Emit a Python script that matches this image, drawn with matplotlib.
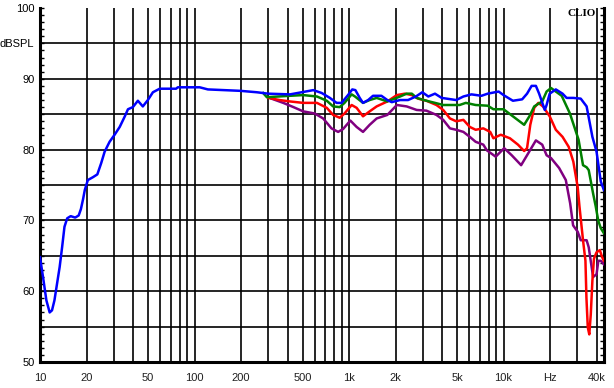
import matplotlib.pyplot as plt
import matplotlib.ticker as ticker

# frequency response curves (Hz, dB SPL)
blue_freq = [10, 10.46, 11.0, 11.55, 11.96, 12.4, 12.9, 13.4, 13.9, 14.4, 15.0, 15.8, 16.9, 17.8,
             18.4, 19.0, 19.5, 20.4, 22.0, 23.5, 24.9, 26.2, 28.2, 30.4, 32.8, 35.4, 37.1, 39.9,
             43.0, 46.3, 49.9, 53.8, 59.5, 76, 78, 108, 122, 198, 253, 300, 415, 494, 587, 665,
             752, 831, 895, 985, 1050, 1100, 1173, 1232, 1330, 1430, 1620, 1770, 1890, 2140, 2410,
             2710, 2980, 3260, 3600, 3980, 4940, 5500, 6200, 7200, 7900, 9300, 10000, 11500,
             13200, 14200, 15200, 16200, 17000, 18500, 19000, 19900, 21800, 24100, 25600, 28300,
             31600, 34500, 37600, 40000, 42600, 44600]
blue_db = [64.8, 62.0, 58.7, 57.0, 57.3, 58.7, 61.1, 63.4, 66.2, 69.1, 70.3, 70.6, 70.4, 70.7,
           71.6, 73.0, 74.3, 75.7, 76.1, 76.5, 78.1, 79.7, 81.1, 82.1, 83.2, 84.7, 85.7, 86.0,
           86.9, 86.1, 87.0, 88.1, 88.6, 88.6, 88.8, 88.8, 88.5, 88.3, 88.1, 87.9, 87.8, 88.1, 88.4, 88.0,
           87.3, 86.6, 86.6, 87.7, 88.5, 88.4, 87.3, 86.6, 87.0, 87.6, 87.6, 87.0, 86.7, 87.0, 87.0,
           87.5, 88.1, 87.5, 87.9, 87.3, 87.0, 87.5, 87.8, 87.6, 87.9, 88.2, 87.7, 86.9,
           87.1, 87.9, 89.0, 89.0, 87.9, 85.6, 86.3, 87.9, 88.5, 87.9, 87.3, 87.3,
           87.2, 86.1, 81.8, 79.7, 75.5, 74.3]

green_freq = [278, 294, 415, 505, 620, 718, 789, 870, 935, 1040, 1093, 1232, 1360, 1510, 1770,
              2140, 2360, 2550, 2740, 3170, 3600, 4070, 5200, 5700, 6600, 7900, 8600, 10000, 11500,
              13600, 14700, 15800, 17800, 19000, 20300, 21800, 23800, 26900, 30600, 32700, 34500,
              35600, 38000, 39500, 41000, 42600, 44600]
green_db = [88.0, 87.4, 87.6, 87.7, 87.5, 86.9, 86.1, 86.0, 86.6, 87.8, 87.5, 86.6, 87.0, 87.3, 86.8,
            87.5, 87.9, 87.9, 87.3, 86.9, 86.6, 86.3, 86.3, 86.6, 86.3, 86.2, 85.7, 85.7, 84.7,
            83.5, 84.7, 86.1, 86.8, 88.2, 88.7, 88.2, 87.6, 85.1, 81.4, 77.8, 77.5,
            77.1, 73.8, 72.0, 70.0, 68.9, 68.2]

red_freq = [300, 356, 415, 505, 620, 718, 789, 870, 935, 1040, 1120, 1232, 1360, 1510, 1770, 2040,
            2300, 2550, 2800, 3170, 3680, 4070, 4500, 4940, 5500, 6050, 6600, 7400, 8200, 8600,
            9600, 11000, 12400, 13600, 14200, 14900, 15800, 16800, 18000, 19900, 21800, 24100,
            26400, 28300, 30200, 31000, 32700, 33900, 34400, 35100, 35900, 36700, 37600, 38500,
            40000, 42000, 43500, 44600]
red_db = [87.3, 87.0, 86.8, 86.6, 86.6, 85.9, 84.9, 84.5, 85.1, 86.3, 85.9, 84.7, 85.4, 86.1, 86.8, 87.7,
          87.9, 87.7, 87.2, 86.9, 86.3, 85.6, 84.4, 84.0, 84.2, 83.2, 82.8, 83.0, 82.5, 81.6,
          82.1, 81.6, 80.7, 79.8, 80.2, 83.5, 85.9, 86.6, 86.1, 84.7, 82.8, 81.8,
          80.4, 78.3, 74.7, 72.0, 67.2, 64.3, 59.1, 54.9, 53.9, 56.7, 61.5, 64.6,
          65.5, 65.8, 64.8, 64.3]

purple_freq = [315, 375, 437, 505, 600, 680, 770, 850, 915, 1020, 1120, 1232, 1360, 1510, 1770, 2040,
               2360, 2740, 3170, 3680, 4070, 4500, 4940, 5500, 6050, 6600, 7400, 7800, 8900, 10100,
               11300, 13000, 14200, 16200, 17800, 19000, 20300, 22900, 25300, 27000, 28200, 30200,
               31600, 34500, 35600, 36900, 38000, 40000, 41100, 42600, 44600]
purple_db = [87.2, 86.6, 86.0, 85.4, 85.1, 84.4, 83.0, 82.5, 82.9, 84.1, 83.2, 82.5, 83.5, 84.4, 84.9, 86.3,
             86.1, 85.6, 85.5, 84.9, 84.2, 83.0, 82.8, 82.5, 81.8, 81.1, 80.7, 79.9, 79.0, 80.2,
             79.2, 77.8, 79.2, 81.3, 80.7, 79.2, 78.8, 77.4, 75.7, 72.4, 69.3, 68.4,
             67.2, 67.2, 66.2, 63.9, 62.0, 62.4, 64.3, 64.3, 63.8]

x_labels = {10: '10', 20: '20', 50: '50', 100: '100', 200: '200', 500: '500', 1000: '1k',
            2000: '2k', 5000: '5k', 10000: '10k', 20000: 'Hz', 40000: '40k'}
y_labels = ['50', '', '60', '', '70', '', '80', '', '90', 'dBSPL', '100']

plt.rcParams['font.family'] = ['Liberation Sans', 'DejaVu Sans']

fig = plt.figure(figsize=(6.14, 3.88), dpi=100)
ax = fig.add_axes([40 / 614, 26 / 388, 564 / 614, 354 / 388])

ax.plot(purple_freq, purple_db, color='#800080', linewidth=1.8, zorder=3)
ax.plot(red_freq, red_db, color='#ff0000', linewidth=1.8, zorder=4)
ax.plot(green_freq, green_db, color='#008000', linewidth=1.8, zorder=5)
ax.plot(blue_freq, blue_db, color='#0000ff', linewidth=1.8, zorder=6)

ax.set_xscale('log')
ax.set_xlim(10, 44700)
ax.set_ylim(50, 100)

# vertical grid at every 1..9 x decade
grid_x = [m * 10 ** e for e in range(1, 5) for m in range(1, 10) if m * 10 ** e <= 40000]
ax.set_xticks(grid_x)
ax.set_xticklabels([x_labels.get(v, '') for v in grid_x])
ax.xaxis.set_minor_locator(ticker.NullLocator())
ax.tick_params(axis='x', length=0, pad=8, labelsize=8, labelcolor='#202020')

ax.set_yticks(range(50, 101, 5))
ax.set_yticklabels(y_labels)
ax.yaxis.set_minor_locator(ticker.MultipleLocator(1))
ax.tick_params(axis='y', which='both', direction='in', length=3, width=1,
               left=True, right=True, labelsize=8, pad=4)

ax.grid(True, color='black', linewidth=1.2)
ax.get_ygridlines()[-1].set_visible(False)
ax.set_axisbelow(True)

ax.spines['top'].set_visible(False)
for side in ['left', 'bottom', 'right']:
    ax.spines[side].set_linewidth(2.2)

fig.text(596 / 614, 1 - 14 / 388, 'CLIO', ha='right', va='center', fontsize=8,
         fontweight='bold', family='Liberation Serif')

fig.savefig('out.png', dpi=100)
